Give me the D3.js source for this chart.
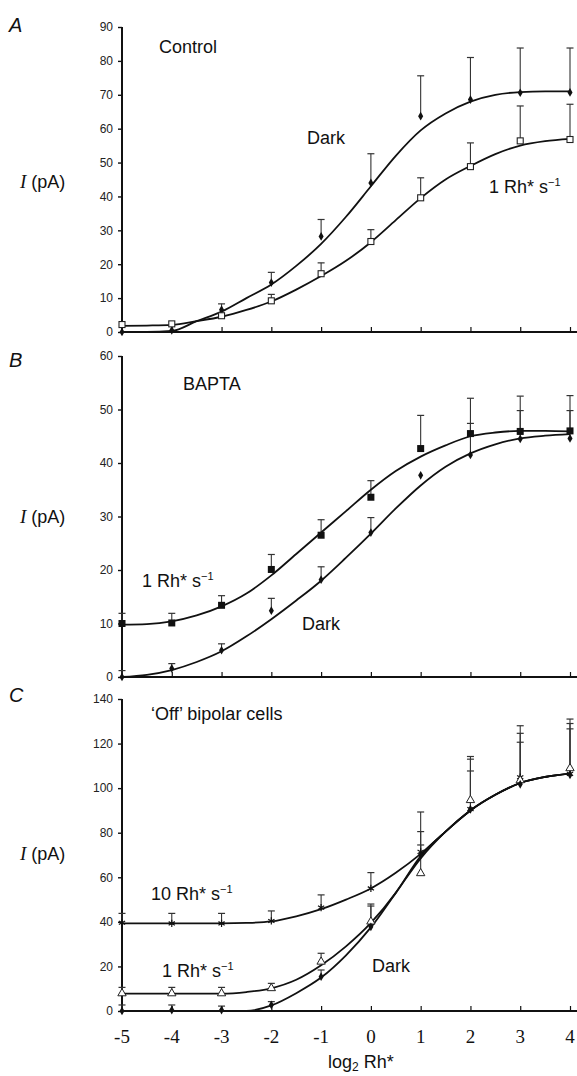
<!DOCTYPE html>
<html><head><meta charset="utf-8">
<script src="https://cdn.jsdelivr.net/npm/d3@7"></script>
<style>body{margin:0;background:#fff;} svg{display:block;}</style>
</head><body><svg id="c" width="577" height="1076"></svg>
<script>
// ---------- data ----------
const xTicks = [-5,-4,-3,-2,-1,0,1,2,3,4];
const fitX = [-5,-4.5,-4,-3.5,-3,-2.5,-2,-1.5,-1,-0.5,0,0.5,1,1.5,2,2.5,3,3.5,4];

// Panel A: Control
const aYTicks = [0,10,20,30,40,50,60,70,80,90];
const aDark = [0,0.5,6.6,14.6,28.2,44,63.7,68.6,70.6,70.7];
const aDarkErr = [null,null,8.3,17.6,33.2,52.6,75.6,81,83.8,83.8];
const aLight = [2.2,2.4,4.8,9.2,17.2,26.7,39.6,48.8,56.4,56.8];
const aLightErr = [null,null,null,11.1,20.4,30.2,45.5,55.8,66.7,67.2];
const aDarkFit = [0,0,0.3,3.2,6,10,14,19.5,26,34,43,52,59.5,64.5,68,70,70.8,71,71];
const aLightFit = [1.8,1.9,2.1,3.2,4.5,6.5,9,12.5,16.5,21,26.5,33,39.5,45,49,52.5,55,56.3,57];

// Panel B: BAPTA
const bYTicks = [0,10,20,30,40,50,60];
const bLight = [10.0,10.1,13.4,20.1,26.5,33.6,42.7,45.5,45.9,46.0];
const bLightErr = [11.9,11.9,15.2,22.9,29.4,36.7,48.9,52.1,52.5,52.6];
const bDark = [0,1.6,5.0,12.4,18.2,27.0,37.7,41.5,44.5,44.6];
const bDarkErr = [1.2,2.5,6.2,14.7,20.6,29.8,null,47.4,49.8,49.8];
const bLightFit = [9.8,9.9,10.4,11.5,13.2,15.6,19,23,27,31,35,38.5,41.2,43.3,45,45.7,46,46,45.9];
const bDarkFit = [0,0.4,1.3,2.8,4.8,7.6,10.8,14.3,18,22.3,26.8,31.5,35.8,39.3,41.8,43.5,44.6,45.1,45.4];

// Panel C: 'Off' bipolar cells
const cYTicks = [0,20,40,60,80,100,120,140];
const c10 = [39.6,39.3,39.3,40.4,46.4,55.0,71.4,90.6,104.9,106.4];
const c10Err = [43.8,43.8,43.8,44.9,52.1,62.1,89.3,114.2,128,131];
const c1 = [7.9,7.9,7.9,10.2,22.1,40.1,61.8,94.6,103.5,108.9];
const c1Err = [10.6,10.6,10.6,12.4,25.9,48,80.5,113,124.6,129];
const cDark = [0,0.4,0.4,2.7,15.4,37.8,70,90.5,101.7,106];
const cDarkErr = [2.7,2.7,2.2,4.2,18.4,47.1,74.5,107.7,120.6,126.6];
const c10Fit = [39.3,39.3,39.3,39.3,39.3,39.5,40.2,42.5,45.7,50,55,62,70.5,80.5,90,97,102.3,105,106.5];
const c1Fit = [7.8,7.8,7.8,7.8,7.8,8.5,10.2,14,20.5,29,39.5,53,69.5,80.5,90,97,102.3,105,106.5];
const cDarkFit = [0,0,0,0,0,0,2.5,8,15,25,37.5,53,68.5,80.5,90,97,102.3,105,106.5];

// ---------- drawing ----------
const svg = d3.select("#c");
const SANS = "'Liberation Sans', Arial, Helvetica, sans-serif";
const SERIF = "'Liberation Serif', 'Times New Roman', serif";
const x = d3.scaleLinear().domain([-5,4]).range([122,570]);

const panels = [
  {letter:"A", ly:32, dom:[0,90], rng:[332,27], ticks:aYTicks, ylab:188,
   series:[
     {vals:aDark, err:aDarkErr, fit:aDarkFit, mark:"diamond"},
     {vals:aLight, err:aLightErr, fit:aLightFit, mark:"osquare"}],
   texts:[{t:"Control",x:159,y:53},{t:"Dark",x:307,y:144},{t:"1 Rh* s",sup:"\u22121",x:489,y:193}]},
  {letter:"B", ly:367, dom:[0,60], rng:[677,356], ticks:bYTicks, ylab:523,
   series:[
     {vals:bDark, err:bDarkErr, fit:bDarkFit, mark:"diamond"},
     {vals:bLight, err:bLightErr, fit:bLightFit, mark:"fsquare"}],
   texts:[{t:"BAPTA",x:183,y:390},{t:"1 Rh* s",sup:"\u22121",x:142,y:587},{t:"Dark",x:302,y:630}]},
  {letter:"C", ly:702, dom:[0,140], rng:[1011,699], ticks:cYTicks, ylab:860,
   series:[
     {vals:c10, err:c10Err, fit:c10Fit, mark:"cross"},
     {vals:c1, err:c1Err, fit:c1Fit, mark:"triangle"},
     {vals:cDark, err:cDarkErr, fit:cDarkFit, mark:"diamond"}],
   texts:[{t:"\u2018Off\u2019 bipolar cells",x:151,y:720},{t:"10 Rh* s",sup:"\u22121",x:151,y:900},
          {t:"1 Rh* s",sup:"\u22121",x:162,y:977},{t:"Dark",x:372,y:972}]}
];

panels.forEach((p, pi) => {
  const y = d3.scaleLinear().domain(p.dom).range(p.rng);
  const g = svg.append("g");
  // panel letter
  g.append("text").attr("x",9).attr("y",p.ly).text(p.letter)
    .attr("font-family",SANS).attr("font-style","italic").attr("font-size",20).attr("fill","#111");
  // y axis label
  const yl = g.append("text").attr("x",20).attr("y",p.ylab).attr("font-family",SANS)
    .attr("font-size",18).attr("fill","#111");
  yl.append("tspan").text("I").attr("font-family",SERIF).attr("font-style","italic").attr("font-size",19);
  yl.append("tspan").text(" (pA)");

  // y axis
  const yAxis = d3.axisLeft(y).tickValues(p.ticks).tickSize(4).tickPadding(5).tickFormat(d3.format("d"));
  const ya = g.append("g").attr("transform",`translate(${x(-5)},0)`).call(yAxis);
  ya.select(".domain").remove();
  ya.selectAll(".tick line").attr("stroke","#111").attr("stroke-width",1.4);
  ya.selectAll(".tick text").attr("font-family",SANS).attr("font-size",12).attr("fill","#222");
  g.append("line").attr("x1",x(-5)).attr("x2",x(-5)).attr("y1",y(0)+1).attr("y2",y(p.dom[1]))
    .attr("stroke","#111").attr("stroke-width",2);

  // x axis
  const xAxis = d3.axisBottom(x).tickValues(xTicks.slice(1)).tickSize(-5).tickFormat("");
  const xa = g.append("g").attr("transform",`translate(0,${y(0)})`).call(xAxis);
  xa.select(".domain").remove();
  xa.selectAll(".tick line").attr("stroke","#111").attr("stroke-width",1.2);
  g.append("line").attr("x1",x(-5)-1).attr("x2",577).attr("y1",y(0)).attr("y2",y(0))
    .attr("stroke","#111").attr("stroke-width",2);

  if (pi === 2) {
    g.append("g").selectAll("text").data(xTicks).join("text")
      .attr("x",d=>x(d)).attr("y",1043).attr("text-anchor","middle")
      .attr("font-family",SERIF).attr("font-size",19).attr("fill","#111")
      .text(d=>String(d));
    const xl = g.append("text").attr("x",x(-0.2)).attr("y",1068).attr("text-anchor","middle")
      .attr("font-family",SANS).attr("font-size",18).attr("fill","#111");
    xl.append("tspan").text("log");
    xl.append("tspan").text("2").attr("font-size",12).attr("dy",3);
    xl.append("tspan").text(" Rh*").attr("dy",-3);
  }

  // error bars
  p.series.forEach(s => {
    s.vals.forEach((v,i) => {
      const e = s.err[i];
      if (e == null) return;
      const cx = x(xTicks[i]);
      g.append("line").attr("x1",cx).attr("x2",cx).attr("y1",y(v)).attr("y2",y(e))
        .attr("stroke","#333").attr("stroke-width",1.1);
      g.append("line").attr("x1",cx-3.5).attr("x2",cx+3.5).attr("y1",y(e)).attr("y2",y(e))
        .attr("stroke","#333").attr("stroke-width",1.2);
    });
  });
  // fitted curves
  const line = d3.line().x((d,i)=>x(fitX[i])).y(d=>y(d)).curve(d3.curveMonotoneX);
  p.series.forEach(s => {
    g.append("path").attr("d",line(s.fit)).attr("fill","none")
      .attr("stroke","#111").attr("stroke-width",1.8);
  });
  // markers
  p.series.forEach(s => {
    s.vals.forEach((v,i) => {
      const cx = x(xTicks[i]), cy = y(v);
      if (s.mark === "diamond") {
        g.append("path").attr("d",d3.symbol(d3.symbolDiamond,22)())
          .attr("transform",`translate(${cx},${cy})`).attr("fill","#111");
      } else if (s.mark === "osquare") {
        g.append("rect").attr("x",cx-3).attr("y",cy-3).attr("width",6).attr("height",6)
          .attr("fill","#fff").attr("stroke","#222").attr("stroke-width",1.1);
      } else if (s.mark === "fsquare") {
        g.append("rect").attr("x",cx-3.5).attr("y",cy-3.5).attr("width",7).attr("height",7)
          .attr("fill","#111");
      } else if (s.mark === "cross") {
        g.append("path").attr("d",d3.symbol(d3.symbolAsterisk,36)())
          .attr("transform",`translate(${cx},${cy})`).attr("fill","none")
          .attr("stroke","#111").attr("stroke-width",1.2);
      } else if (s.mark === "triangle") {
        g.append("path").attr("d",d3.symbol(d3.symbolTriangle,30)())
          .attr("transform",`translate(${cx},${cy})`).attr("fill","#fff")
          .attr("stroke","#222").attr("stroke-width",1);
      }
    });
  });
  // text labels
  p.texts.forEach(t => {
    const tx = g.append("text").attr("x",t.x).attr("y",t.y).attr("font-family",SANS)
      .attr("font-size",18).attr("fill","#111");
    tx.append("tspan").text(t.t);
    if (t.sup) tx.append("tspan").text(t.sup).attr("font-size",11).attr("dy",-7);
  });
});
</script></body></html>
